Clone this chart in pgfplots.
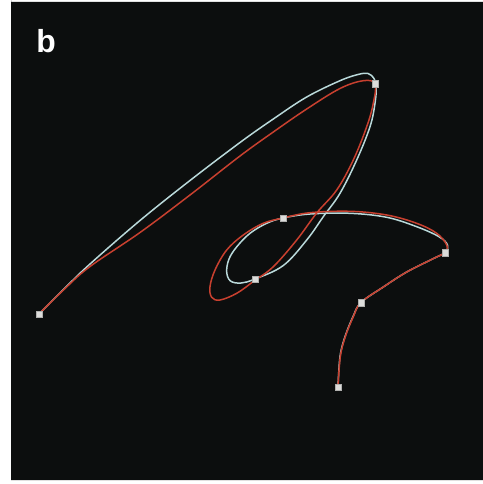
\documentclass[border=0pt]{standalone}
\usepackage{fontspec}
\setmainfont{Liberation Sans}
\usepackage{pgfplots}
\pgfplotsset{compat=1.18}
\definecolor{bg}{HTML}{0C0E0E}
\definecolor{cblue}{HTML}{B9D9DA}
\definecolor{cred}{HTML}{C8402F}
\definecolor{cmark}{HTML}{DCDCDA}
\begin{document}
\begin{tikzpicture}
\begin{axis}[
  width=483bp, height=484bp, scale only axis,
  xmin=0, xmax=483, ymin=0, ymax=484, y dir=reverse,
  hide axis, clip=true,
]
\addplot[fill=white, draw=none] coordinates {(0,0) (483,0) (483,484) (0,484)} \closedcycle;
\addplot[fill=bg, draw=none] coordinates {(11,2) (483,2) (483,480) (11,480)} \closedcycle;
% light blue curve
\addplot[cblue, line width=1.5bp, smooth, tension=0.6] coordinates {
(39,314) (65,288) (90,264) (140,220.5) (190,180.5) (240,142.5) (273.3,119) (306.7,97)
(340,80.7) (358,74.5) (368,73.5) (374,78.5) (376.2,87) (375,103.3) (370,126.7)
(356.7,160) (340,193.3) (323.3,216.7) (306.7,240) (283.3,265.5) (255,279)
(241,283) (230.5,281) (226.7,272) (229,259) (237,246.5) (250,233.3)
(266.7,223.3) (283,218) (310,214) (350,213.3) (386.7,217.3) (416.7,226.7)
(439,236.7) (447.5,245) (445,252.5) (433.3,258.6) (406.7,272) (383.3,287)
(361,302.5) (353,316.7) (345,336.7) (340,356.7) (338,387)
};
% red curve
\addplot[cred, line width=1.5bp, smooth, tension=0.6] coordinates {
(39,314) (65,288.5) (90,266.5) (140,232.5) (190,195) (240,156) (273.3,132) (306.7,109)
(340,88.5) (363.3,80.7) (375,84) (373.3,103.3) (366.7,126.7) (353.3,160)
(336.7,190) (316.7,213) (296.7,240) (273.3,266.7) (254,281) (236.7,293.3)
(220,300) (211.7,297.3) (210,286.7) (215,270) (226.7,250) (243.3,235)
(263.3,223.3) (283,218) (310,212.7) (350,211.3) (386.7,215) (416.7,223.3)
(436.7,233.3) (446.7,245) (445,252.5) (433.3,258.6) (406.7,272) (383.3,287)
(361,302.5) (353.3,316.7) (345.3,336.7) (340.3,356.7) (338,387)
};
% control points
\addplot[only marks, mark=square*, mark size=3.3bp, mark options={fill=cmark, draw=cmark!80!black, line width=0.4bp}] coordinates {
(39,314) (375,84) (255,279) (283,218) (445,252.5) (361,302.5) (338,387)
};
\node[text=white, font=\fontsize{32}{36}\selectfont\bfseries, anchor=center] at (axis cs:46,41) {b};
\end{axis}
\end{tikzpicture}
\end{document}
